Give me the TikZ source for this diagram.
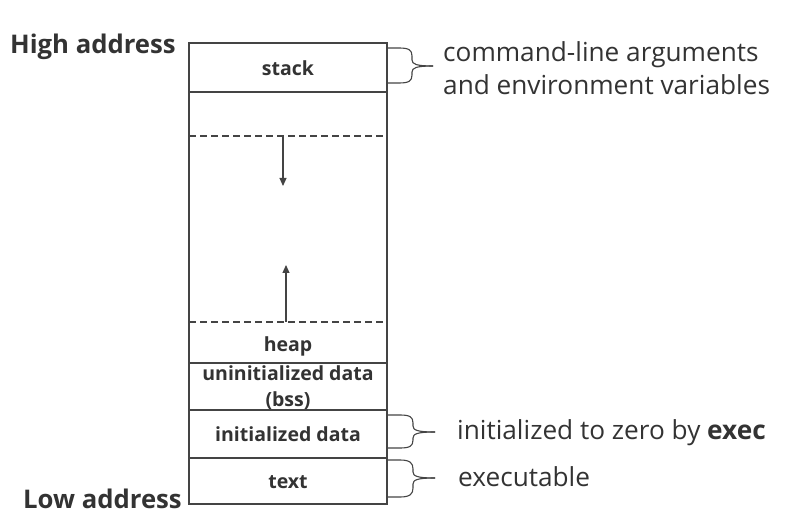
\documentclass[tikz,border=0pt]{standalone}
\usepackage{fontspec}
\setmainfont{Open Sans}
\usetikzlibrary{arrows.meta}
\definecolor{ink}{HTML}{444444}
\definecolor{txt}{HTML}{333333}
\tikzset{
  segline/.style={draw=ink, line width=1.1pt},
  dashline/.style={draw=ink, line width=1.1pt, dash pattern=on 7pt off 4pt},
  seglabel/.style={text=txt, font=\fontsize{19.5}{26}\selectfont\bfseries, align=center, inner sep=0pt},
  addr/.style={text=txt, font=\fontsize{25.7}{30}\selectfont\bfseries, inner sep=0pt, anchor=base west},
  note/.style={text=txt, font=\fontsize{26.2}{33}\selectfont, inner sep=0pt, anchor=base west, align=left},
  bracestyle/.style={draw=ink, line width=1.1pt},
  growarrow/.style={draw=ink, line width=1.1pt, -{Triangle[length=8pt,width=7pt]}},
}
\begin{document}
\begin{tikzpicture}[x=1pt,y=-1pt]
\useasboundingbox (0,0) rectangle (808,526);
% memory box
\draw[segline] (189,43) rectangle (387,504);
\draw[segline, line width=1.8pt] (189,92) -- (387,92);
\draw[segline] (189,363) -- (387,363);
\draw[segline] (189,410) -- (387,410);
\draw[segline] (189,458) -- (387,458);
\draw[dashline] (189,136) -- (387,136);
\draw[dashline] (189,322) -- (387,322);
% labels in segments
\node[seglabel] (stack) at (288,68) {stack};
\node[seglabel] (heap) at (288,346) {heap};
\node[seglabel] (bss) at (288,388) {uninitialized data\\(bss)};
\node[seglabel] (idata) at (288,434) {initialized data};
\node[seglabel] (text) at (288,482) {text};
% growth arrows
\coordinate (sdown) at (283,136);
\coordinate (sdownend) at (283,186);
\coordinate (hup) at (286,322);
\coordinate (hupend) at (286,265);
\draw[growarrow] (sdown) -- (sdownend);
\draw[growarrow] (hup) -- (hupend);
% addresses
\node[addr] (high) at (10,54) {High address};
\node[addr] (low) at (23,508) {Low address};
% braces
\coordinate (b1) at (433,66);
\draw[bracestyle] (387,48) -- (399,48) .. controls (409,48) and (412,50) .. (412,56) -- (412,60) .. controls (412,64) and (416,66) .. (b1);
\draw[bracestyle] (387,83) -- (399,83) .. controls (409,83) and (412,81) .. (412,75) -- (412,72) .. controls (412,68) and (416,66) .. (b1);
\coordinate (b2) at (435,432);
\draw[bracestyle] (387,415) -- (400,415) .. controls (410,415) and (413,417) .. (413,423) -- (413,426) .. controls (413,430) and (417,432) .. (b2);
\draw[bracestyle] (387,448) -- (400,448) .. controls (410,448) and (413,446) .. (413,440) -- (413,438) .. controls (413,434) and (417,432) .. (b2);
\coordinate (b3) at (435,478);
\draw[bracestyle] (387,460) -- (400,460) .. controls (410,460) and (413,463) .. (413,469) -- (413,472) .. controls (413,476) and (417,478) .. (b3);
\draw[bracestyle] (387,497) -- (400,497) .. controls (410,497) and (413,494) .. (413,488) -- (413,484) .. controls (413,480) and (417,478) .. (b3);
% notes
\node[note] (n1) at (443,95) {command-line arguments\\and environment variables};
\node[note] (n2) at (457,439) {initialized to zero by \textbf{exec}};
\node[note] (n3) at (458,486) {executable};
\end{tikzpicture}
\end{document}
